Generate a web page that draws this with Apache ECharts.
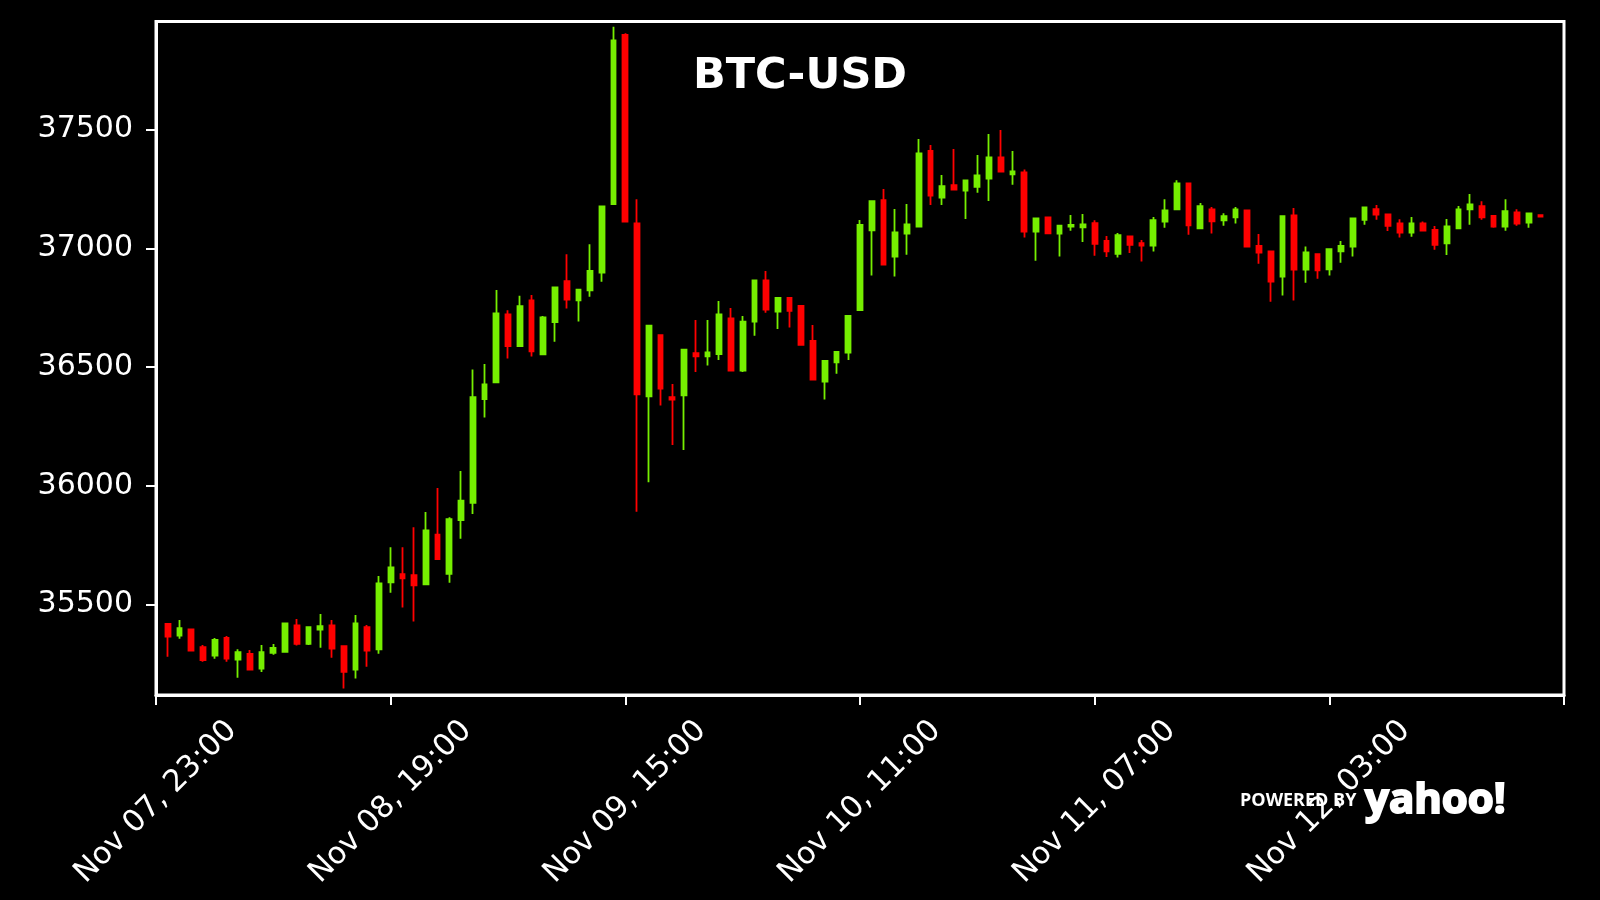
<!DOCTYPE html>
<html><head><meta charset="utf-8">
<script src="https://cdn.jsdelivr.net/npm/echarts@6/dist/echarts.min.js"></script>
<style>html,body{margin:0;padding:0;background:#000;}#c{width:1600px;height:900px;}</style>
</head><body><div id="c"></div>
<script>
const openVals = [35418,35369,35395,35321,35285,35359,35268,35292,35230,35297,
35301,35412,35334,35394,35412,35325,35226,35405,35311,35593,
35628,35624,35585,35794,35629,35856,35928,36365,36435,36722,
36588,36781,36553,36689,36862,36781,36823,36898,37186,37899,
37105,36377,36634,36373,36381,36559,36545,36554,36705,36485,
36691,36865,36733,36791,36757,36610,36439,36520,36561,36740,
37076,37203,36965,37062,37091,37410,37213,37266,37243,37259,
37293,37383,37311,37320,37070,37130,37062,37091,37088,37106,
37031,36977,37050,37022,37011,37112,37164,37273,37084,37164,
37118,37130,37160,37010,36987,36881,37139,36910,36975,36911,
36987,37007,37120,37165,37143,37105,37066,37105,37077,37021,
37084,37164,37177,37136,37091,37151,37108,37140];
const closeVals = [35365,35401,35306,35266,35351,35272,35299,35226,35299,35317,
35421,35334,35405,35409,35314,35217,35421,35306,35589,35656,
35610,35581,35812,35691,35859,35937,36373,36427,36726,36588,
36756,36566,36709,36835,36784,36826,36905,37176,37875,37112,
36385,36674,36409,36363,36573,36545,36562,36722,36485,36691,
36865,36742,36791,36737,36593,36447,36526,36564,36715,37098,
37198,36931,37067,37101,37400,37222,37262,37247,37286,37307,
37383,37323,37324,37070,37126,37063,37095,37098,37101,37019,
36987,37055,37015,37011,37119,37160,37273,37097,37177,37113,
37135,37164,37007,36982,36860,37135,36910,36983,36907,36996,
37010,37126,37172,37142,37095,37066,37105,37074,37015,37092,
37164,37185,37130,37091,37156,37104,37147,37133];
const lowVals = [35280,35356,35304,35259,35272,35259,35192,35222,35216,35289,
35299,35327,35330,35318,35276,35146,35188,35238,35293,35550,
35487,35428,35583,35688,35592,35777,35881,36287,36433,36536,
36586,36544,36551,36606,36747,36692,36796,36859,37184,37110,
35891,36015,36338,36172,36151,36479,36506,36530,36483,36479,
36632,36729,36660,36666,36590,36445,36363,36472,36530,36738,
36885,36929,36881,36973,37089,37182,37182,37245,37123,37234,
37199,37321,37268,37045,36948,37061,36965,37074,37027,36969,
36963,36961,36980,36944,36986,37087,37162,37057,37082,37062,
37095,37104,37005,36935,36775,36801,36780,36855,36872,36885,
36939,36965,37099,37120,37073,37045,37049,37072,36994,36972,
37082,37099,37120,37087,37074,37095,37087,37132];
const highVals = [35420,35435,35397,35330,35359,35367,35312,35308,35330,35334,
35423,35439,35407,35460,35435,35327,35456,35414,35620,35741,
35741,35825,35890,35991,35867,36062,36490,36513,36824,36739,
36800,36803,36715,36838,36975,36828,37017,37178,37933,37906,
37207,36676,36636,36429,36575,36698,36698,36778,36749,36715,
36867,36904,36794,36793,36760,36677,36528,36566,36717,37119,
37200,37250,37165,37186,37460,37435,37309,37418,37288,37393,
37481,37498,37410,37332,37130,37132,37097,37140,37144,37118,
37052,37064,37052,37035,37132,37207,37287,37275,37191,37174,
37148,37174,37162,37060,36989,37137,37170,37008,36977,36998,
37031,37128,37174,37182,37145,37122,37132,37113,37094,37123,
37178,37229,37198,37139,37207,37164,37149,37141];
const tickLabels = ['Nov 07, 23:00','Nov 08, 19:00','Nov 09, 15:00','Nov 10, 11:00','Nov 11, 07:00','Nov 12, 03:00'];
const yTicks = [35500,36000,36500,37000,37500];
const titleText = 'BTC-USD';

// hourly categories: Nov 07 23:00 ... Nov 12 23:00
const categories = [];
for (let i = 0; i < 121; i++) {
  const t = 23 + i;
  const d = 7 + Math.floor(t / 24), h = t % 24;
  categories.push('Nov ' + String(d).padStart(2, '0') + ', ' + String(h).padStart(2, '0') + ':00');
}
const candles = openVals.map((o, i) => [categories[i + 1], o, closeVals[i], lowVals[i], highVals[i]]);

const UP = '#76ee00', DOWN = '#ff0000';
const FONT = 'DejaVu Sans';
const chart = echarts.init(document.getElementById('c'), null, {renderer: 'canvas'});
chart.setOption({
  backgroundColor: '#000000',
  animation: false,
  grid: {left: 156, top: 21.5, width: 1408, height: 673.5, show: true, borderColor: '#ffffff', borderWidth: 3, backgroundColor: 'transparent'},
  xAxis: {
    type: 'category', data: categories, boundaryGap: false,
    axisLine: {show: true, lineStyle: {color: '#ffffff', width: 3}},
    axisTick: {show: true, interval: 19, length: 10, lineStyle: {color: '#ffffff', width: 2}},
    axisLabel: {
      interval: 19, rotate: 45, align: 'center', verticalAlign: 'middle', margin: 107,
      color: '#ffffff', fontSize: 30.5, fontFamily: FONT,
      formatter: function (v, idx) { const k = idx / 20; return (Number.isInteger(k) && k < tickLabels.length) ? tickLabels[k] : ''; }
    },
    splitLine: {show: false}
  },
  yAxis: {
    type: 'value', min: 35119, max: 37955,
    axisLine: {show: true, lineStyle: {color: '#ffffff', width: 3}},
    axisTick: {show: true, length: 10, customValues: yTicks, lineStyle: {color: '#ffffff', width: 2}},
    axisLabel: {customValues: yTicks, color: '#ffffff', fontSize: 30, fontFamily: FONT, margin: 23,
      formatter: function (v) { return String(Math.round(v)); }},
    splitLine: {show: false}
  },
  series: [{
    type: 'candlestick', data: candles, encode: {x: 0, y: [1, 2, 3, 4]},
    barWidth: 5.2,
    itemStyle: {color: UP, color0: DOWN, borderColor: UP, borderColor0: DOWN, borderWidth: 1.8}
  }],
  graphic: [
    {type: 'text', x: 800, y: 76.5, style: {text: titleText, fill: '#ffffff', font: 'bold 43px "DejaVu Sans"', align: 'center', verticalAlign: 'middle'}},
    {type: 'text', x: 1240, y: 801, z: 100, style: {text: 'POWERED BY', fill: '#ffffff', font: 'bold 18px "Open Sans"', align: 'left', verticalAlign: 'middle'}},
    {type: 'text', x: 1365, y: 801, z: 100, style: {text: 'yahoo!', fill: '#ffffff', stroke: '#ffffff', lineWidth: 2, font: 'bold 42px "Open Sans"', align: 'left', verticalAlign: 'middle'}}
  ]
});
</script>
</body></html>
